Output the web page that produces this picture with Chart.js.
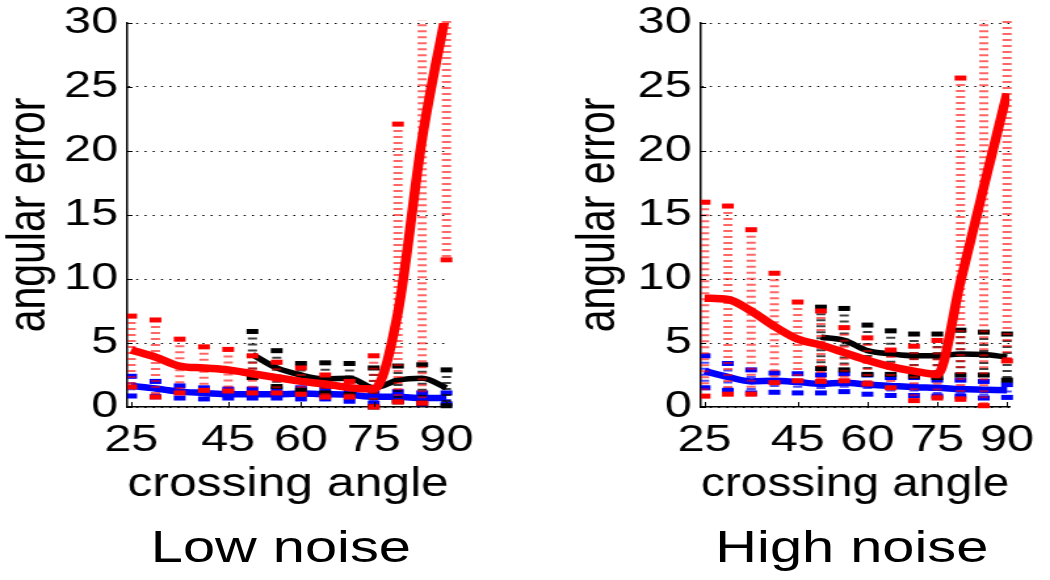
<!DOCTYPE html>
<html>
<head>
<meta charset="utf-8">
<script src="https://cdn.jsdelivr.net/npm/chart.js@4.4.1/dist/chart.umd.min.js"></script>
<style>
  html, body { margin: 0; padding: 0; background: #fff; overflow: hidden; }
  /* the figure is drawn on an 800px stage and stretched to 1050px, like the original */
  #stage { position: absolute; left: 0; top: 0; width: 800px; height: 580px;
           transform: scaleX(1.3125); transform-origin: 0 0; }
  .panel { position: absolute; top: 0; width: 400px; height: 580px; }
  .panel canvas { display: block; }
  .caption { position: absolute; top: 522px; width: 300px; height: 56px; line-height: 56px;
             text-align: center; font: 44px "Liberation Sans", Arial, sans-serif; color: #000; }
</style>
</head>
<body>
<div id="stage">
  <div class="panel" style="left:0"><canvas id="lowChart" width="400" height="580"></canvas></div>
  <div class="panel" style="left:400px"><canvas id="highChart" width="400" height="580"></canvas></div>
  <div class="caption" style="left:64px">Low noise</div>
  <div class="caption" style="left:499px">High noise</div>
</div>

<script>
// crossing angles (x) and the labelled ticks
const angles = [25, 30, 35, 40, 45, 50, 55, 60, 65, 70, 75, 80, 85, 90];
const xTicks = [25, 45, 60, 75, 90];

// Low noise
const lowRed     = [4.45, 3.9, 3.2, 3.05, 2.9, 2.6, 2.3, 2.0, 1.8, 1.5, 1.4, 7.4, 21, 31];
const lowRedHi   = [7.1, 6.8, 5.3, 4.7, 4.5, 4.0, 3.5, 3.05, 2.5, 2.0, 4.0, 22.1, 36, 40];
const lowRedLo   = [1.57, 0.78, 1.1, 1.3, 1.25, 1.1, 1.1, 1.0, 0.78, 0.78, 0.0, 0.4, 0.3, 11.5];
const lowBlack   = [null, null, null, null, null, 4.1, 3.05, 2.5, 2.2, 2.25, 1.5, 2.1, 2.25, 1.5];
const lowBlackHi = [null, null, null, null, null, 5.9, 4.4, 3.4, 3.45, 3.4, 3.05, 3.2, 3.3, 2.9];
const lowBlackLo = [null, null, null, null, null, 2.3, 1.6, 1.3, 1.1, 1.0, 0.0, 0.4, 0.3, 0.1];
const lowBlue    = [1.65, 1.45, 1.2, 1.1, 1.0, 1.0, 1.0, 1.05, 1.0, 0.95, 0.8, 0.8, 0.7, 0.72];
const lowBlueHi  = [2.4, 2.0, 1.65, 1.5, 1.4, 1.4, 1.4, 1.5, 1.45, 1.2, 1.1, 1.2, 1.1, 1.1];
const lowBlueLo  = [0.86, 0.8, 0.7, 0.63, 0.7, 0.7, 0.7, 0.63, 0.63, 0.45, 0.3, 0.5, 0.25, 0.25];

// High noise
const highRed     = [8.5, 8.4, 7.5, 6.3, 5.3, 4.85, 4.25, 3.65, 3.15, 2.8, 2.55, 9.8, 17.2, 24.5];
const highRedHi   = [16.0, 15.7, 13.85, 10.45, 8.2, 7.5, 6.2, 5.4, 4.45, 4.75, 5.2, 25.7, 36, 40];
const highRedLo   = [0.85, 1.0, 1.0, 1.9, 2.05, 2.0, 2.05, 1.8, 1.5, 0.5, 0.7, 0.6, 0.1, 3.6];
const highBlack   = [null, null, null, null, null, 5.45, 5.2, 4.4, 4.15, 4.0, 4.0, 4.15, 4.1, 3.9];
const highBlackHi = [null, null, null, null, null, 7.8, 7.7, 6.4, 5.95, 5.7, 5.7, 6.0, 5.85, 5.7];
const highBlackLo = [null, null, null, null, null, 3.0, 2.9, 2.55, 2.55, 2.4, 2.3, 2.5, 2.5, 2.1];
const highBlue    = [2.8, 2.35, 2.0, 2.05, 1.95, 1.8, 1.9, 1.75, 1.65, 1.55, 1.5, 1.4, 1.35, 1.3];
const highBlueHi  = [4.0, 3.4, 2.9, 2.65, 2.6, 2.5, 2.6, 2.5, 2.3, 2.3, 2.1, 2.1, 2.0, 1.75];
const highBlueLo  = [1.5, 1.3, 1.1, 1.15, 1.1, 1.1, 1.2, 1.0, 0.9, 0.9, 0.85, 0.85, 0.7, 0.75];

const FONT = '"Liberation Sans", Arial, Helvetica, sans-serif';

// dotted error bars with small filled caps, drawn under each dataset's line
const errorBars = {
  id: 'errorBars',
  beforeDatasetDraw(chart, args) {
    const ds = chart.data.datasets[args.index];
    if (!ds.hi) return;
    const xs = chart.scales.x, ys = chart.scales.y, area = chart.chartArea;
    const ctx = chart.ctx;
    ctx.save();
    ctx.beginPath();
    ctx.rect(area.left, area.top - 3, area.width + 6, area.height + 6);
    ctx.clip();
    ds.data.forEach((p, i) => {
      if (p.y == null) return;
      const px = xs.getPixelForValue(p.x);
      const top = ys.getPixelForValue(ds.hi[i]);
      const bot = ys.getPixelForValue(ds.lo[i]);
      ctx.strokeStyle = ds.barColor;
      ctx.lineWidth = 7;
      ctx.setLineDash([2, 4]);
      ctx.beginPath();
      ctx.moveTo(px, top);
      ctx.lineTo(px, bot);
      ctx.stroke();
      ctx.fillStyle = ds.borderColor;
      ctx.fillRect(px - 4.5, top - 2.5, 9, 5);
      ctx.fillRect(px - 4.5, bot - 2.5, 9, 5);
    });
    ctx.restore();
  },
  // short inward tick marks on both axes
  afterDraw(chart) {
    const xs = chart.scales.x, ys = chart.scales.y, area = chart.chartArea;
    const ctx = chart.ctx;
    ctx.save();
    ctx.strokeStyle = '#000';
    ctx.lineWidth = 1;
    ctx.beginPath();
    xTicks.forEach(v => {
      const px = Math.round(xs.getPixelForValue(v)) + 0.5;
      ctx.moveTo(px, area.bottom);
      ctx.lineTo(px, area.bottom - 5);
    });
    ys.ticks.forEach(t => {
      const py = Math.round(ys.getPixelForValue(t.value)) + 0.5;
      ctx.moveTo(area.left, py);
      ctx.lineTo(area.left + 4, py);
    });
    ctx.stroke();
    ctx.restore();
  }
};

function series(values, hi, lo, color, barColor, width) {
  return {
    data: angles.map((a, i) => ({ x: a, y: values[i] })),
    hi: hi, lo: lo,
    borderColor: color,
    barColor: barColor,
    borderWidth: width,
    pointRadius: 0,
    cubicInterpolationMode: 'monotone',
    fill: false
  };
}

function makePanel(id, red, black, blue, pad, axisWidth) {
  new Chart(document.getElementById(id), {
    type: 'line',
    data: {
      // first dataset is drawn last: red on top, then black, blue underneath
      datasets: [
        series(red[0], red[1], red[2], '#ff0000', 'rgba(255,0,0,0.6)', 7.5),
        series(black[0], black[1], black[2], '#000000', 'rgba(0,0,0,0.75)', 5.5),
        series(blue[0], blue[1], blue[2], '#0000ff', 'rgba(0,0,255,0.7)', 6.5)
      ]
    },
    options: {
      responsive: false,
      animation: false,
      layout: { padding: pad },
      plugins: { legend: { display: false }, tooltip: { enabled: false } },
      scales: {
        x: {
          type: 'linear',
          min: 24.2,
          max: 90.5,
          afterBuildTicks: scale => { scale.ticks = xTicks.map(v => ({ value: v })); },
          afterFit: scale => { scale.height = 100; },
          grid: { display: false, drawTicks: false },
          border: { display: true, color: '#000', width: 1.5 },
          ticks: { color: '#000', font: { family: FONT, size: 37 }, padding: 12, maxRotation: 0, autoSkip: false },
          title: { display: true, text: 'crossing angle', color: '#000',
                   font: { family: FONT, size: 40, lineHeight: 1.1 }, padding: 0 }
        },
        y: {
          min: 0,
          max: 30,
          afterFit: scale => {
            scale.width = axisWidth;
            // let the layout padding alone decide where the plot starts
            scale.paddingTop = 0;
            scale.paddingBottom = 0;
          },
          grid: { color: '#000', lineWidth: 1, drawTicks: false },
          border: { display: true, color: '#000', width: 1.5, dash: [1.5, 4.8] },
          ticks: { stepSize: 5, color: '#000', font: { family: FONT, size: 37, lineHeight: 1.2 }, padding: 7 },
          title: { display: true, text: 'angular error', color: '#000',
                   font: { family: FONT, size: 41, lineHeight: 1.1 }, padding: 0 }
        }
      }
    },
    plugins: [errorBars]
  });
}

makePanel('lowChart',
  [lowRed, lowRedHi, lowRedLo],
  [lowBlack, lowBlackHi, lowBlackLo],
  [lowBlue, lowBlueHi, lowBlueLo],
  { left: 0, right: 58, top: 23, bottom: 73 }, 97);

makePanel('highChart',
  [highRed, highRedHi, highRedLo],
  [highBlack, highBlackHi, highBlackLo],
  [highBlue, highBlueHi, highBlueLo],
  { left: 34, right: 21, top: 23, bottom: 73 }, 100);
</script>
</body>
</html>
